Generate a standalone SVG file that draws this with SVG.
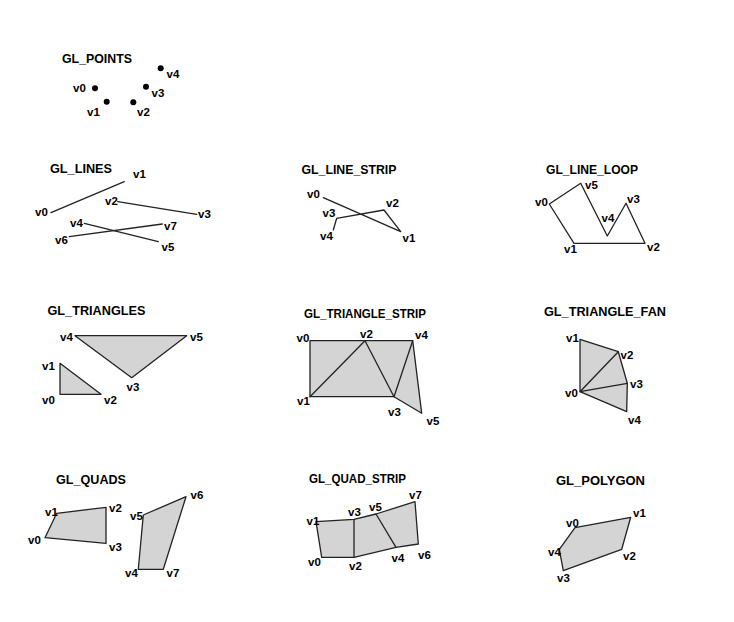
<svg xmlns="http://www.w3.org/2000/svg" width="734" height="622" viewBox="0 0 734 622">
<style>
.t{font-family:"Liberation Sans",Arial,sans-serif;font-weight:bold;font-size:13px;fill:#000}
.l{font-family:"Liberation Sans",Arial,sans-serif;font-weight:bold;font-size:11.5px;fill:#000}
.e{fill:none;stroke:#222;stroke-width:1.3;stroke-linejoin:round;stroke-linecap:round}
.f{fill:#d4d4d4;stroke:#222;stroke-width:1.3;stroke-linejoin:round}
.p{fill:#000}
</style>
<rect width="734" height="622" fill="#fff"/>

<g id="gl_points">
<text class="t" x="62" y="63" textLength="70" lengthAdjust="spacingAndGlyphs">GL_POINTS</text>
<circle class="p" cx="95" cy="88.3" r="3"/>
<circle class="p" cx="106.7" cy="101.7" r="3"/>
<circle class="p" cx="133.3" cy="102.3" r="3"/>
<circle class="p" cx="146" cy="86.7" r="3"/>
<circle class="p" cx="160.7" cy="68.3" r="3"/>
<text class="l" x="73" y="92">v0</text>
<text class="l" x="87" y="115.5">v1</text>
<text class="l" x="137" y="115.5">v2</text>
<text class="l" x="151.5" y="97">v3</text>
<text class="l" x="166.5" y="78">v4</text>
</g>

<g id="gl_lines">
<text class="t" x="50" y="173" textLength="62" lengthAdjust="spacingAndGlyphs">GL_LINES</text>
<line class="e" x1="51" y1="212.7" x2="124.3" y2="181.7"/>
<line class="e" x1="117.7" y1="201.7" x2="196.7" y2="214.3"/>
<line class="e" x1="84.3" y1="223.3" x2="158.3" y2="241.7"/>
<line class="e" x1="69.3" y1="236.7" x2="162.3" y2="224"/>
<text class="l" x="35" y="215.5">v0</text>
<text class="l" x="133" y="178">v1</text>
<text class="l" x="105" y="204.5">v2</text>
<text class="l" x="198" y="218">v3</text>
<text class="l" x="70" y="226.5">v4</text>
<text class="l" x="161.5" y="251">v5</text>
<text class="l" x="55" y="244">v6</text>
<text class="l" x="164" y="230">v7</text>
</g>

<g id="gl_line_strip">
<text class="t" x="301.5" y="173.5" textLength="95" lengthAdjust="spacingAndGlyphs">GL_LINE_STRIP</text>
<polyline class="e" points="323.3,197.7 400.7,231.7 384,210 336.7,218.3 333.3,230"/>
<text class="l" x="307" y="198">v0</text>
<text class="l" x="402.5" y="242">v1</text>
<text class="l" x="386" y="207">v2</text>
<text class="l" x="322.5" y="217">v3</text>
<text class="l" x="320" y="240">v4</text>
</g>

<g id="gl_line_loop">
<text class="t" x="546" y="174" textLength="92" lengthAdjust="spacingAndGlyphs">GL_LINE_LOOP</text>
<polygon class="e" points="549.3,204 574,243.3 645,243.3 626,203.3 607.3,236 580.7,183.3"/>
<text class="l" x="535" y="205.5">v0</text>
<text class="l" x="564" y="253">v1</text>
<text class="l" x="647" y="250.5">v2</text>
<text class="l" x="627" y="203">v3</text>
<text class="l" x="601.5" y="222">v4</text>
<text class="l" x="585" y="189">v5</text>
</g>

<g id="gl_triangles">
<text class="t" x="47.5" y="315" textLength="98" lengthAdjust="spacingAndGlyphs">GL_TRIANGLES</text>
<polygon class="f" points="60,394.3 60,363.3 101,394.3"/>
<polygon class="f" points="131.7,377.7 75,335.7 186.7,335.7"/>
<text class="l" x="42" y="404">v0</text>
<text class="l" x="42" y="370">v1</text>
<text class="l" x="104" y="404">v2</text>
<text class="l" x="126.5" y="390.5">v3</text>
<text class="l" x="60" y="341">v4</text>
<text class="l" x="190" y="341">v5</text>
</g>

<g id="gl_triangle_strip">
<text class="t" x="304" y="317.5" textLength="122" lengthAdjust="spacingAndGlyphs">GL_TRIANGLE_STRIP</text>
<polygon class="f" points="310,340.7 310,396.7 394,396.7 421.7,413.3 412.7,340.7"/>
<polyline class="e" points="310,396.7 365,340.7 394,396.7 412.7,340.7"/>
<text class="l" x="296.5" y="341.5">v0</text>
<text class="l" x="297" y="405">v1</text>
<text class="l" x="360" y="338">v2</text>
<text class="l" x="388" y="415.5">v3</text>
<text class="l" x="415" y="339">v4</text>
<text class="l" x="426.5" y="425">v5</text>
</g>

<g id="gl_triangle_fan">
<text class="t" x="544" y="316" textLength="122" lengthAdjust="spacingAndGlyphs">GL_TRIANGLE_FAN</text>
<polygon class="f" points="580,391.7 580,339.3 618.3,351.7 627.3,383.3 626.7,411.7"/>
<polyline class="e" points="618.3,351.7 580,391.7 627.3,383.3"/>
<text class="l" x="565" y="397">v0</text>
<text class="l" x="566" y="341.5">v1</text>
<text class="l" x="620.5" y="359">v2</text>
<text class="l" x="630" y="388">v3</text>
<text class="l" x="628" y="424">v4</text>
</g>

<g id="gl_quads">
<text class="t" x="56" y="484" textLength="70" lengthAdjust="spacingAndGlyphs">GL_QUADS</text>
<polygon class="f" points="45,537.7 56.7,513.3 106,507.3 106,543.3"/>
<polygon class="f" points="138.3,569.3 143.3,515 186,496.7 163.3,569.3"/>
<text class="l" x="28" y="544">v0</text>
<text class="l" x="45" y="515.5">v1</text>
<text class="l" x="109" y="512">v2</text>
<text class="l" x="109" y="551">v3</text>
<text class="l" x="125" y="577">v4</text>
<text class="l" x="130" y="520">v5</text>
<text class="l" x="190.5" y="499">v6</text>
<text class="l" x="166.5" y="577">v7</text>
</g>

<g id="gl_quad_strip">
<text class="t" x="309" y="483" textLength="97" lengthAdjust="spacingAndGlyphs">GL_QUAD_STRIP</text>
<polygon class="f" points="321.7,557.3 316,521.7 354,519.3 376,514 415,501.7 418.3,544 396,547.3 354,557.3"/>
<line class="e" x1="354" y1="519.3" x2="354" y2="557.3"/>
<line class="e" x1="376" y1="514" x2="396" y2="547.3"/>
<text class="l" x="308" y="565.5">v0</text>
<text class="l" x="306.5" y="525">v1</text>
<text class="l" x="349" y="570">v2</text>
<text class="l" x="348" y="515.5">v3</text>
<text class="l" x="391.5" y="562">v4</text>
<text class="l" x="369" y="510.5">v5</text>
<text class="l" x="418" y="559">v6</text>
<text class="l" x="409" y="499">v7</text>
</g>

<g id="gl_polygon">
<text class="t" x="556" y="485" textLength="89" lengthAdjust="spacingAndGlyphs">GL_POLYGON</text>
<polygon class="f" points="575,527.7 630.7,517.3 621.7,549.3 563.3,570.7 559.3,549.3"/>
<text class="l" x="566" y="527">v0</text>
<text class="l" x="633" y="516.5">v1</text>
<text class="l" x="623" y="560">v2</text>
<text class="l" x="557" y="582">v3</text>
<text class="l" x="548" y="555.5">v4</text>
</g>
</svg>
